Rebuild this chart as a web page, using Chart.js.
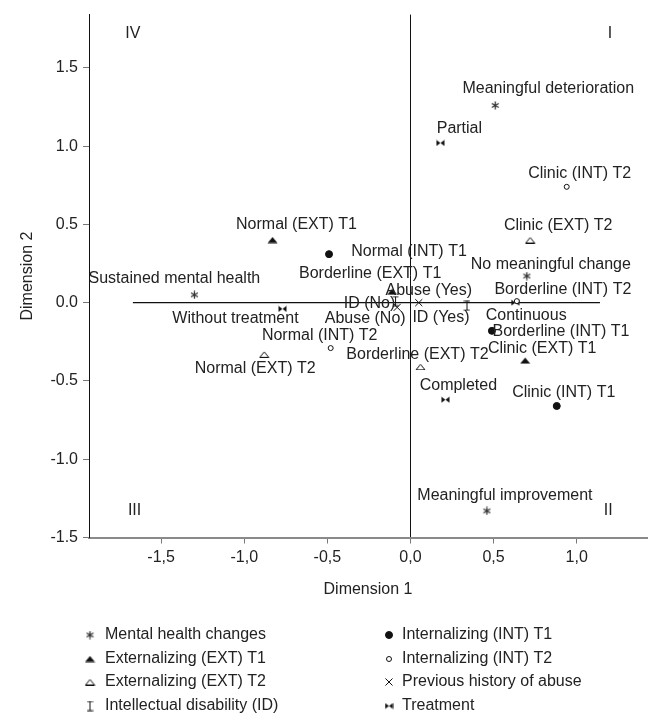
<!DOCTYPE html>
<html>
<head>
<meta charset="utf-8">
<script src="https://cdn.jsdelivr.net/npm/chart.js@4.4.1/dist/chart.umd.min.js"></script>
<style>
  html, body { margin: 0; padding: 0; background: #fff; }
  canvas { display: block; }
</style>
</head>
<body>
<canvas id="map" width="656" height="714"></canvas>
<script>
const FONT = '"Liberation Sans", Arial, sans-serif';
const FONT_SIZE = 16;
const INK = '#222';

// category points: label, dimension 1, dimension 2
const mhLabels = ['Sustained mental health', 'Meaningful deterioration', 'No meaningful change', 'Meaningful improvement'];
const mhDim1 = [-1.30, 0.51, 0.70, 0.46];
const mhDim2 = [0.05, 1.26, 0.17, -1.33];

const ext1Labels = ['Normal (EXT) T1', 'Borderline (EXT) T1', 'Clinic (EXT) T1'];
const ext1Dim1 = [-0.83, -0.11, 0.69];
const ext1Dim2 = [0.40, 0.07, -0.37];

const ext2Labels = ['Normal (EXT) T2', 'Borderline (EXT) T2', 'Clinic (EXT) T2'];
const ext2Dim1 = [-0.88, 0.06, 0.72];
const ext2Dim2 = [-0.33, -0.41, 0.40];

const idLabels = ['ID (No)', 'ID (Yes)'];
const idDim1 = [-0.09, 0.34];
const idDim2 = [0.01, -0.02];

const int1Labels = ['Normal (INT) T1', 'Borderline (INT) T1', 'Clinic (INT) T1'];
const int1Dim1 = [-0.49, 0.49, 0.88];
const int1Dim2 = [0.31, -0.18, -0.66];

const int2Labels = ['Normal (INT) T2', 'Borderline (INT) T2', 'Clinic (INT) T2'];
const int2Dim1 = [-0.48, 0.64, 0.94];
const int2Dim2 = [-0.29, 0.01, 0.74];

const abuseLabels = ['Abuse (No)', 'Abuse (Yes)'];
const abuseDim1 = [-0.08, 0.05];
const abuseDim2 = [-0.03, 0.00];

const treatLabels = ['Partial', 'Without treatment', 'Continuous', 'Completed'];
const treatDim1 = [0.18, -0.77, 0.63, 0.21];
const treatDim2 = [1.02, -0.04, 0.00, -0.62];

const legendNames = ['Mental health changes', 'Externalizing (EXT) T1', 'Externalizing (EXT) T2',
  'Intellectual disability (ID)', 'Internalizing (INT) T1', 'Internalizing (INT) T2',
  'Previous history of abuse', 'Treatment'];

const quadrantNames = ['I', 'II', 'III', 'IV'];
const quadrantDim1 = [1.20, 1.19, -1.66, -1.67];
const quadrantDim2 = [1.72, -1.33, -1.33, 1.72];

const zeroLineDim1 = [-1.67, 1.14];

const xTickValues = [-1.5, -1.0, -0.5, 0.0, 0.5, 1.0];
const yTickValues = [-1.5, -1.0, -0.5, 0.0, 0.5, 1.0, 1.5];

// where each label sits relative to its point (px)
const labelShift = {
  'Sustained mental health': [-20, -16],
  'Meaningful deterioration': [53, -17],
  'No meaningful change': [24, -11],
  'Meaningful improvement': [18, -15],
  'Normal (EXT) T1': [24, -15],
  'Borderline (EXT) T1': [-22, -18],
  'Clinic (EXT) T1': [17, -12],
  'Normal (EXT) T2': [-9, 14],
  'Borderline (EXT) T2': [-3, -12],
  'Clinic (EXT) T2': [28, -14],
  'ID (No)': [-26, 2],
  'ID (Yes)': [-26, 12],
  'Abuse (No)': [-32, 11],
  'Abuse (Yes)': [10, -12],
  'Normal (INT) T1': [80, -3],
  'Borderline (INT) T1': [69, 1],
  'Clinic (INT) T1': [7, -13],
  'Normal (INT) T2': [-11, -12],
  'Borderline (INT) T2': [46, -12],
  'Clinic (INT) T2': [13, -13],
  'Partial': [19, -14],
  'Without treatment': [-47, 10],
  'Continuous': [11, 13],
  'Completed': [13, -14]
};

function marker(w, h, draw) {
  const c = document.createElement('canvas');
  c.width = w;
  c.height = h;
  const g = c.getContext('2d');
  g.strokeStyle = '#111';
  g.fillStyle = '#111';
  g.lineWidth = 1;
  draw(g);
  return c;
}

const asterisk = marker(9, 9, g => {
  g.strokeStyle = '#333';
  g.lineWidth = 1.3;
  g.beginPath();
  for (const a of [90, 30, 150]) {
    const r = a * Math.PI / 180;
    g.moveTo(4.5 - Math.cos(r) * 4, 4.5 - Math.sin(r) * 4);
    g.lineTo(4.5 + Math.cos(r) * 4, 4.5 + Math.sin(r) * 4);
  }
  g.stroke();
});
const triFilled = marker(11, 7, g => {
  g.beginPath();
  g.moveTo(0.5, 6.5); g.lineTo(10.5, 6.5); g.lineTo(5.5, 0.5); g.closePath();
  g.fill();
});
const triOpen = marker(11, 7, g => {
  g.beginPath();
  g.moveTo(1, 6.5); g.lineTo(10, 6.5); g.lineTo(5.5, 1); g.closePath();
  g.stroke();
});
const iBeam = marker(7, 11, g => {
  g.beginPath();
  g.moveTo(0.5, 1); g.lineTo(6.5, 1);
  g.moveTo(3.5, 1); g.lineTo(3.5, 10);
  g.moveTo(0.5, 10); g.lineTo(6.5, 10);
  g.stroke();
});
const bowtie = marker(9, 7, g => {
  g.beginPath();
  g.moveTo(0.5, 0.5); g.lineTo(4.5, 3.5); g.lineTo(0.5, 6.5); g.closePath();
  g.moveTo(8.5, 0.5); g.lineTo(4.5, 3.5); g.lineTo(8.5, 6.5); g.closePath();
  g.fill();
});

function pts(d1, d2) {
  return d1.map((x, i) => ({x: x, y: d2[i]}));
}

const groups = [
  {labels: mhLabels, data: pts(mhDim1, mhDim2), pointStyle: asterisk},
  {labels: ext1Labels, data: pts(ext1Dim1, ext1Dim2), pointStyle: triFilled},
  {labels: ext2Labels, data: pts(ext2Dim1, ext2Dim2), pointStyle: triOpen},
  {labels: idLabels, data: pts(idDim1, idDim2), pointStyle: iBeam},
  {labels: int1Labels, data: pts(int1Dim1, int1Dim2), pointStyle: 'circle', pointRadius: 3.5, pointBackgroundColor: '#111'},
  {labels: int2Labels, data: pts(int2Dim1, int2Dim2), pointStyle: 'circle', pointRadius: 2.5, pointBackgroundColor: '#fff'},
  {labels: abuseLabels, data: pts(abuseDim1, abuseDim2), pointStyle: 'crossRot', pointRadius: 5},
  {labels: treatLabels, data: pts(treatDim1, treatDim2), pointStyle: bowtie}
];

const datasets = groups.map((g, i) => Object.assign({
  label: legendNames[i],
  pointRadius: 5,
  pointBorderColor: '#111',
  pointBorderWidth: 1,
  pointBackgroundColor: '#111'
}, g));

datasets.push({
  label: 'zero',
  data: zeroLineDim1.map(x => ({x: x, y: 0})),
  showLine: true,
  borderColor: '#111',
  borderWidth: 1.2,
  pointRadius: 0
});

function drawLegendMarker(ctx, ds, x, y) {
  const s = ds.pointStyle;
  if (typeof s === 'object') {
    ctx.drawImage(s, x - s.width / 2, y - s.height / 2);
    return;
  }
  ctx.save();
  ctx.strokeStyle = '#111';
  ctx.lineWidth = 1;
  ctx.beginPath();
  if (s === 'circle') {
    ctx.fillStyle = ds.pointBackgroundColor;
    ctx.arc(x, y, ds.pointRadius, 0, Math.PI * 2);
    ctx.fill();
    ctx.stroke();
  } else {
    const r = ds.pointRadius * Math.SQRT1_2;
    ctx.moveTo(x - r, y - r); ctx.lineTo(x + r, y + r);
    ctx.moveTo(x + r, y - r); ctx.lineTo(x - r, y + r);
    ctx.stroke();
  }
  ctx.restore();
}

const textPlugin = {
  id: 'textPlugin',
  afterDatasetsDraw(chart) {
    const ctx = chart.ctx;
    const xs = chart.scales.x, ys = chart.scales.y;
    ctx.save();
    ctx.font = FONT_SIZE + 'px ' + FONT;
    ctx.fillStyle = INK;
    ctx.textAlign = 'center';
    ctx.textBaseline = 'middle';
    chart.data.datasets.forEach((ds, di) => {
      if (!ds.labels) return;
      chart.getDatasetMeta(di).data.forEach((el, i) => {
        const t = ds.labels[i];
        const sh = labelShift[t] || [0, -14];
        ctx.fillText(t, el.x + sh[0], el.y + sh[1]);
      });
    });
    quadrantNames.forEach((q, i) => {
      ctx.fillText(q, xs.getPixelForValue(quadrantDim1[i]), ys.getPixelForValue(quadrantDim2[i]));
    });

    // legend, two columns of four
    ctx.textAlign = 'left';
    const colMarker = [90, 389], colText = [105, 402], rows = [635, 659, 682, 706];
    chart.data.datasets.forEach((ds, di) => {
      if (!ds.labels) return;
      const col = di < 4 ? 0 : 1, row = di % 4;
      drawLegendMarker(ctx, ds, colMarker[col], rows[row]);
      ctx.fillStyle = INK;
      ctx.fillText(ds.label, colText[col], rows[row]);
    });
    ctx.restore();
  }
};

new Chart(document.getElementById('map'), {
  type: 'scatter',
  data: {datasets: datasets},
  plugins: [textPlugin],
  options: {
    responsive: false,
    animation: false,
    layout: {padding: {top: 13, right: 9, bottom: 114, left: 0}},
    plugins: {
      legend: {display: false},
      tooltip: {enabled: false}
    },
    scales: {
      x: {
        type: 'linear',
        min: -1.934,
        max: 1.423,
        afterFit: scale => { scale.height = 62.5; },
        afterBuildTicks: scale => { scale.ticks = xTickValues.map(v => ({value: v})); },
        border: {color: '#8a8a8a', width: 2},
        grid: {
          color: c => (c.tick && c.tick.value === 0 ? '#111' : 'rgba(0,0,0,0)'),
          lineWidth: 1,
          tickColor: '#777',
          tickLength: 6
        },
        ticks: {
          padding: 4,
          color: INK,
          font: {size: FONT_SIZE, family: FONT},
          callback: v => v.toFixed(1).replace('.', ',')
        },
        title: {
          display: true,
          text: 'Dimension 1',
          color: INK,
          font: {size: FONT_SIZE, family: FONT},
          padding: {top: 0, bottom: 1}
        }
      },
      y: {
        type: 'linear',
        min: -1.5,
        max: 1.84,
        afterFit: scale => { scale.width = 89; },
        afterBuildTicks: scale => { scale.ticks = yTickValues.map(v => ({value: v})); },
        border: {color: '#111', width: 1},
        grid: {
          drawOnChartArea: false,
          tickColor: '#777',
          tickLength: 6
        },
        ticks: {
          padding: 5,
          color: INK,
          font: {size: FONT_SIZE, family: FONT},
          callback: v => v.toFixed(1)
        },
        title: {
          display: true,
          text: 'Dimension 2',
          color: INK,
          font: {size: FONT_SIZE, family: FONT},
          padding: {top: 18, bottom: 0}
        }
      }
    }
  }
});
</script>
</body>
</html>
